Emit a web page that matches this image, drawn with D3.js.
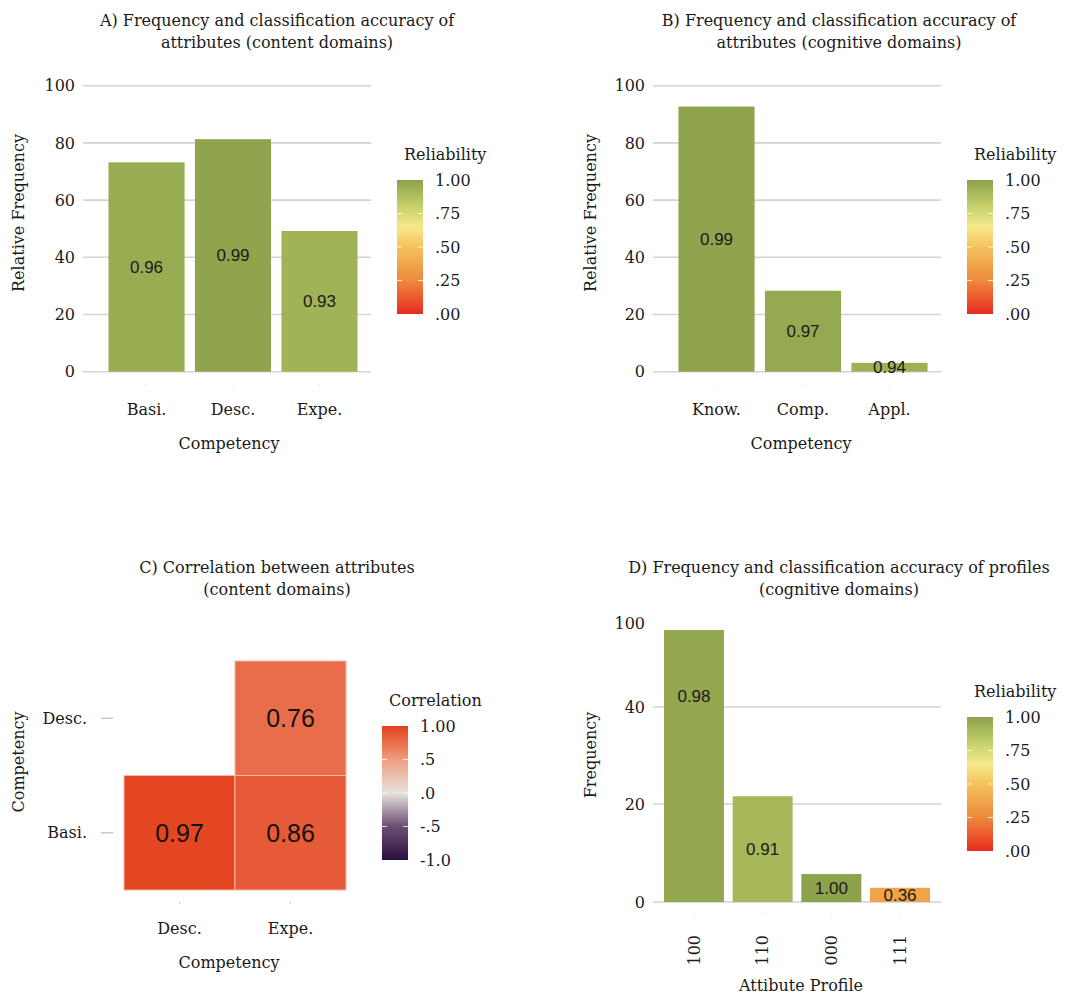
<!DOCTYPE html>
<html>
<head>
<meta charset="utf-8">
<script src="https://cdn.jsdelivr.net/npm/d3@7"></script>
<style>
	body{margin:0;background:#fff}
	svg{display:block}
	.serif{font-family:"DejaVu Serif",serif;fill:#1a1a1a}
	.sans{font-family:"Liberation Sans",Arial,sans-serif;fill:#1a1a1a}
</style>
</head>
<body>
<div id="chart"></div>
<script>

const contentCats = ["Basi.","Desc.","Expe."]
const contentFreq = [73.2, 81.3, 49.2]
const contentRel = [0.96, 0.99, 0.93]

const cognitiveCats = ["Know.","Comp.","Appl."]
const cognitiveFreq = [92.7, 28.3, 3.1]
const cognitiveRel = [0.99, 0.97, 0.94]

const corrCols = ["Desc.","Expe."]
const corrRows = ["Desc.","Basi."]
const corrPairs = [["Desc.","Basi."],["Expe.","Basi."],["Expe.","Desc."]]
const corrValues = [0.97, 0.86, 0.76]

const profileCats = ["100","110","000","111"]
const profileFreq = [95, 21.6, 5.7, 2.9]
const profileRel = [0.98, 0.91, 1.00, 0.36]

const freqTicks = [0,20,40,60,80,100]
const profileTicks = [0,20,40,100]
const relTicks = [0,.25,.5,.75,1]
const relTickLabels = [".00",".25",".50",".75","1.00"]
const corrTicks = [-1,-.5,0,.5,1]
const corrTickLabels = ["-1.0","-.5",".0",".5","1.00"]

const relColor = d3.scaleLinear()
	.domain([0,.25,.5,.65,.8,1])
	.range(["#e52b1f","#ee8a3c","#f5c25c","#f6e98a","#c6d26c","#8ca24b"])

const corrColor = d3.scaleLinear()
	.domain([-1,-.5,0,.5,1])
	.range(["#2a0f40","#6e4d73","#e6e3df","#f09d7e","#e3401b"])

const W = 1079, H = 996
const FS = "16px"
const svg = d3.select("#chart").append("svg").attr("width",W).attr("height",H)
const defs = svg.append("defs")

const title = (lines,cx,y0)=>{
	svg.append("text").attr("class","serif").attr("text-anchor","middle").style("font-size",FS)
		.selectAll("tspan").data(lines).enter().append("tspan")
		.attr("x",cx).attr("y",(d,i)=>y0+i*22).text(d=>d)
}

const axisTitleY = (txt,x,y)=>{
	svg.append("text").attr("class","serif").attr("text-anchor","middle").style("font-size",FS)
		.attr("transform","translate("+x+","+y+") rotate(-90)").attr("dy","0.35em").text(txt)
}

const axisTitleX = (txt,x,y)=>{
	svg.append("text").attr("class","serif").attr("text-anchor","middle").style("font-size",FS)
		.attr("x",x).attr("y",y).attr("dy","0.35em").text(txt)
}

const colorbar = (id,color,ticks,labels,x,y0,y1,name)=>{
	const lg = defs.append("linearGradient").attr("id",id).attr("x1",0).attr("x2",0).attr("y1",1).attr("y2",0)
	const dom = d3.extent(ticks)
	lg.selectAll("stop").data(d3.range(0,1.001,0.05)).enter().append("stop")
		.attr("offset",d=>d).attr("stop-color",d=>color(dom[0]+d*(dom[1]-dom[0])))
	const s = d3.scaleLinear().domain(dom).range([y1,y0])
	const g = svg.append("g")
	g.append("text").attr("class","serif").style("font-size",FS)
		.attr("x",x+7).attr("y",y0-20).text(name)
	g.append("rect").attr("x",x).attr("y",y0).attr("width",26).attr("height",y1-y0).attr("fill","url(#"+id+")")
	const inner = ticks.slice(1,-1)
	g.selectAll(".tl").data(inner).enter().append("line")
		.attr("x1",x).attr("x2",x+5).attr("y1",d=>s(d)).attr("y2",d=>s(d)).attr("stroke","#fff").attr("stroke-opacity",0.8)
	g.selectAll(".tr").data(inner).enter().append("line")
		.attr("x1",x+21).attr("x2",x+26).attr("y1",d=>s(d)).attr("y2",d=>s(d)).attr("stroke","#fff").attr("stroke-opacity",0.8)
	g.selectAll(".lab").data(ticks).enter().append("text").attr("class","serif").style("font-size",FS)
		.attr("x",x+38).attr("y",d=>s(d)).attr("dy","0.35em").text((d,i)=>labels[i])
}

const barPanel = (o)=>{
	const x = d3.scaleBand().domain(o.cats).range([o.x0+o.shift,o.x1+o.shift]).paddingInner(o.pi).paddingOuter(o.po)
	const y = o.y
	const g = svg.append("g")
	g.selectAll(".grid").data(o.grid).enter().append("line")
		.attr("x1",o.x0).attr("x2",o.x1).attr("y1",d=>y(d)).attr("y2",d=>y(d))
		.attr("stroke","#d3d3d3").attr("stroke-width",1.6)
	g.selectAll(".ytk").data(o.ticks).enter().append("text").attr("class","serif").style("font-size",FS)
		.attr("text-anchor","end").attr("x",o.x0-8).attr("y",d=>y(d)).attr("dy","0.35em").text(d=>d)
	const data = o.cats.map((c,i)=>({c:c,f:o.freq[i],r:o.rel[i]}))
	g.selectAll(".bar").data(data).enter().append("rect")
		.attr("x",d=>x(d.c)).attr("width",x.bandwidth())
		.attr("y",d=>y(d.f)).attr("height",d=>y(0)-y(d.f))
		.attr("fill",d=>relColor(d.r))
	g.selectAll(".blab").data(data).enter().append("text").attr("class","sans").style("font-size","17px")
		.attr("text-anchor","middle").attr("x",d=>x(d.c)+x.bandwidth()/2)
		.attr("y",d=>y(d.f/2)).attr("dy","0.35em").text(d=>d.r.toFixed(2))
	g.selectAll(".xdot").data(o.cats).enter().append("line")
		.attr("x1",d=>x(d)+x.bandwidth()/2).attr("x2",d=>x(d)+x.bandwidth()/2)
		.attr("y1",y(0)+12).attr("y2",y(0)+14).attr("stroke","#e6e6e6")
	if (o.rotate){
		g.selectAll(".xtk").data(o.cats).enter().append("text").attr("class","serif").style("font-size",FS)
			.attr("text-anchor","end").attr("dy","0.35em")
			.attr("transform",d=>"translate("+(x(d)+x.bandwidth()/2)+","+o.xty+") rotate(-90)").text(d=>d)
	} else {
		g.selectAll(".xtk").data(o.cats).enter().append("text").attr("class","serif").style("font-size",FS)
			.attr("text-anchor","middle").attr("x",d=>x(d)+x.bandwidth()/2).attr("y",o.xty).attr("dy","0.35em").text(d=>d)
	}
}

// A
title(["A) Frequency and classification accuracy of","attributes (content domains)"],277,26)
barPanel({cats:contentCats,freq:contentFreq,rel:contentRel,x0:83,x1:371,shift:6,pi:0.12,po:0.225,
	y:d3.scaleLinear().domain([0,100]).range([371.7,85.7]),grid:freqTicks,ticks:freqTicks,xty:409})
axisTitleY("Relative Frequency",18,213)
axisTitleX("Competency",229,443)
colorbar("gA",relColor,relTicks,relTickLabels,397,180,314,"Reliability")

// B
title(["B) Frequency and classification accuracy of","attributes (cognitive domains)"],839,26)
barPanel({cats:cognitiveCats,freq:cognitiveFreq,rel:cognitiveRel,x0:653,x1:941,shift:6,pi:0.12,po:0.225,
	y:d3.scaleLinear().domain([0,100]).range([371.7,85.7]),grid:freqTicks,ticks:freqTicks,xty:409})
axisTitleY("Relative Frequency",590,213)
axisTitleX("Competency",801,443)
colorbar("gB",relColor,relTicks,relTickLabels,967,180,314,"Reliability")

// C
title(["C) Correlation between attributes","(content domains)"],277,573)
{
	const x = d3.scaleBand().domain(corrCols).range([124,346])
	const y = d3.scaleBand().domain(corrRows).range([661,890])
	const g = svg.append("g")
	const cells = corrPairs.map((p,i)=>({c:p[0],r:p[1],v:corrValues[i]}))
	g.selectAll(".cell").data(cells).enter().append("rect")
		.attr("x",d=>x(d.c)).attr("y",d=>y(d.r)).attr("width",x.bandwidth()).attr("height",y.bandwidth())
		.attr("fill",d=>corrColor(d.v)).attr("stroke","#f6b8a0").attr("stroke-width",1)
	g.selectAll(".clab").data(cells).enter().append("text").attr("class","sans").style("font-size","25px")
		.attr("text-anchor","middle").attr("x",d=>x(d.c)+x.bandwidth()/2).attr("y",d=>y(d.r)+y.bandwidth()/2)
		.attr("dy","0.35em").style("fill","#111").text(d=>d.v.toFixed(2))
	g.selectAll(".ytk").data(corrRows).enter().append("text").attr("class","serif").style("font-size",FS)
		.attr("text-anchor","end").attr("x",87).attr("y",d=>y(d)+y.bandwidth()/2).attr("dy","0.35em").text(d=>d)
	g.selectAll(".ytm").data(corrRows).enter().append("line")
		.attr("x1",101).attr("x2",113).attr("y1",d=>y(d)+y.bandwidth()/2).attr("y2",d=>y(d)+y.bandwidth()/2)
		.attr("stroke","#c8c8c8").attr("stroke-width",1.5)
	g.selectAll(".xtm").data(corrCols).enter().append("line")
		.attr("x1",d=>x(d)+x.bandwidth()/2).attr("x2",d=>x(d)+x.bandwidth()/2)
		.attr("y1",902).attr("y2",904).attr("stroke","#d0d0d0")
	g.selectAll(".xtk").data(corrCols).enter().append("text").attr("class","serif").style("font-size",FS)
		.attr("text-anchor","middle").attr("x",d=>x(d)+x.bandwidth()/2).attr("y",928).attr("dy","0.35em").text(d=>d)
}
axisTitleY("Competency",18,762)
axisTitleX("Competency",229,962)
colorbar("gC",corrColor,corrTicks,corrTickLabels,382,726,860,"Correlation")

// D
title(["D) Frequency and classification accuracy of profiles","(cognitive domains)"],839,573)
barPanel({cats:profileCats,freq:profileFreq,rel:profileRel,x0:653,x1:941,shift:0,pi:0.127,po:0.16,
	y:d3.scaleLinear().domain(profileTicks).range([902,804,707,623]),grid:[0,20,40],ticks:profileTicks,xty:935,rotate:true})
axisTitleY("Frequency",590,755)
axisTitleX("Attibute Profile",801,985)
colorbar("gD",relColor,relTicks,relTickLabels,967,717,851,"Reliability")

</script>
</body>
</html>
